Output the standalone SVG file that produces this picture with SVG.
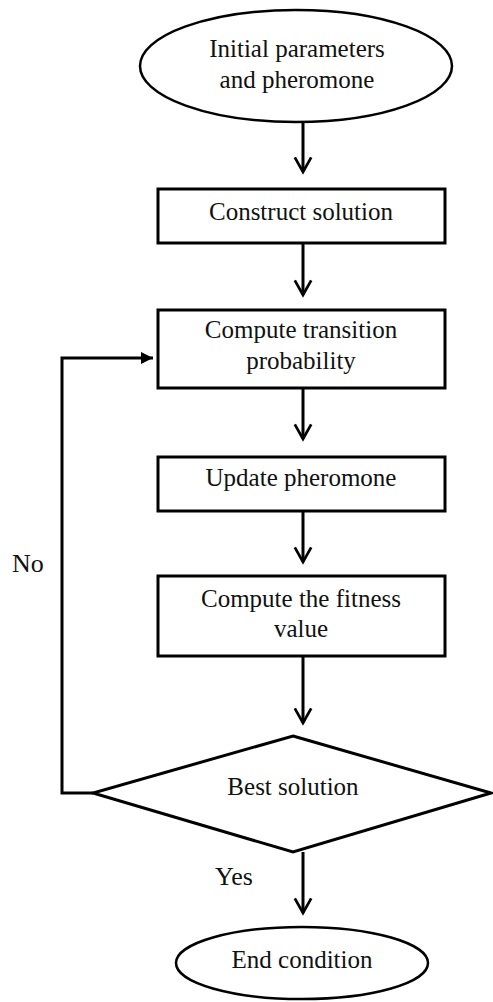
<svg xmlns="http://www.w3.org/2000/svg" width="493" height="1002" viewBox="0 0 493 1002">
<style>
.shape{fill:#fff;stroke:#000;stroke-width:3}
.oval{fill:#fff;stroke:#000;stroke-width:2.5}
.lbl{font-family:"Liberation Serif","Times New Roman",serif;font-size:25px;fill:#111;text-anchor:middle}
.side{font-family:"Liberation Serif","Times New Roman",serif;font-size:26px;fill:#111}
.line{fill:none;stroke:#000;stroke-width:3}
</style>
<defs>
<marker id="chev" markerUnits="userSpaceOnUse" orient="auto" refX="0" refY="0" markerWidth="20" markerHeight="20" viewBox="-18 -11 20 22" overflow="visible">
<path d="M-16,-9 L0,0 L-16,9" fill="none" stroke="#000" stroke-width="3"/>
</marker>
<marker id="tri" markerUnits="userSpaceOnUse" orient="auto" refX="0" refY="0" markerWidth="14" markerHeight="14" viewBox="-12 -7 14 14" overflow="visible">
<path d="M-12,-6 L0,0 L-12,6 Z" fill="#000"/>
</marker>
</defs>
<g id="connectors">
<line class="line" x1="303" y1="122" x2="303" y2="172" marker-end="url(#chev)"/>
<line class="line" x1="303" y1="243" x2="303" y2="295" marker-end="url(#chev)"/>
<line class="line" x1="303" y1="388" x2="303" y2="439" marker-end="url(#chev)"/>
<line class="line" x1="303" y1="511" x2="303" y2="562" marker-end="url(#chev)"/>
<line class="line" x1="303" y1="656" x2="303" y2="723" marker-end="url(#chev)"/>
<line class="line" x1="303" y1="852" x2="303" y2="913" marker-end="url(#chev)"/>
<path class="line" d="M93,793 H62 V358 H153" marker-end="url(#tri)"/>
<text class="side" x="12" y="572">No</text>
<text class="side" x="215" y="885">Yes</text>
</g>
<g id="start">
<ellipse class="oval" cx="296" cy="66" rx="156" ry="56"/>
<text class="lbl" x="297" y="57">Initial parameters</text>
<text class="lbl" x="297" y="88">and pheromone</text>
</g>
<g id="construct">
<rect class="shape" x="158" y="189" width="287" height="54"/>
<text class="lbl" x="301" y="220">Construct solution</text>
</g>
<g id="transition">
<rect class="shape" x="158" y="310" width="287" height="78"/>
<text class="lbl" x="301" y="338">Compute transition</text>
<text class="lbl" x="301" y="369">probability</text>
</g>
<g id="update">
<rect class="shape" x="158" y="457" width="287" height="54"/>
<text class="lbl" x="301" y="486">Update pheromone</text>
</g>
<g id="fitness">
<rect class="shape" x="158" y="576" width="287" height="80"/>
<text class="lbl" x="301" y="607">Compute the fitness</text>
<text class="lbl" x="301" y="637">value</text>
</g>
<g id="best">
<polygon class="shape" points="293,736 491,793 293,852 93,793"/>
<text class="lbl" x="293" y="795">Best solution</text>
</g>
<g id="end">
<ellipse class="oval" cx="302" cy="963" rx="126" ry="36"/>
<text class="lbl" x="302" y="968">End condition</text>
</g>
</svg>
